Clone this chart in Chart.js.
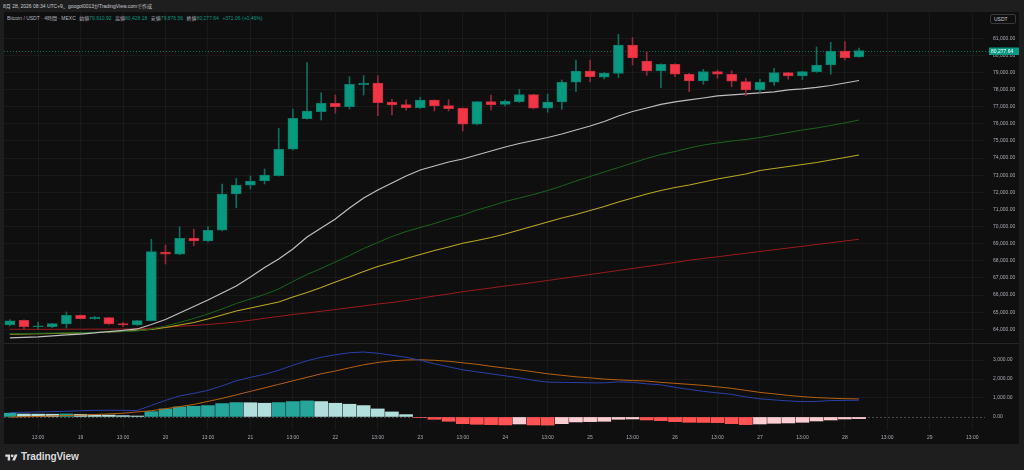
<!DOCTYPE html>
<html><head><meta charset="utf-8">
<script src="https://cdn.jsdelivr.net/npm/chart.js@4.4.0/dist/chart.umd.min.js"></script>
<style>
html,body{margin:0;padding:0;width:1024px;height:470px;overflow:hidden;background:#1e1e1e;font-family:"Liberation Sans",Arial,"Noto Sans CJK JP",sans-serif;}
#panel{position:absolute;left:4px;top:12px;width:1015px;height:432px;background:#0f0f0f;}
#hdr{position:absolute;left:3px;top:3px;font-size:5px;line-height:6px;color:#c9cbd1;white-space:nowrap;}
#legend{position:absolute;left:7px;top:14.5px;font-size:5px;line-height:6px;color:#b2b5be;white-space:nowrap;}
#legend .l{margin-left:3.5px}
#legend .v{color:#089981}
canvas{position:absolute;}
#cA{left:4px;top:12px;}
#cB{left:4px;top:344px;}
#sep{position:absolute;left:4px;top:343px;width:1015px;height:1px;background:#262626;}
#usdt{position:absolute;left:990px;top:13.5px;width:26px;height:10px;border:1px solid #3a3a3a;border-radius:2px;box-sizing:border-box;font-size:5px;line-height:8px;color:#c9cbd1;text-indent:3px;background:#0f0f0f;}
#logo{position:absolute;left:5px;top:453px;}
#tv{position:absolute;left:21px;top:450px;font-size:10px;line-height:13px;font-weight:600;color:#d8dadf;letter-spacing:-0.1px;}
</style></head>
<body>
<div id="panel"></div>
<div id="hdr">8月 28, 2026 08:34 UTC+9、googol0013がTradingView.comで作成</div>
<div id="legend">Bitcoin / USDT · 4時間 · MEXC<span class="l">始値</span><span class="v">79,910.92</span><span class="l">高値</span><span class="v">80,428.18</span><span class="l">安値</span><span class="v">79,876.56</span><span class="l">終値</span><span class="v">80,277.64</span><span class="v l">+371.06 (+0.46%)</span></div>
<div id="usdt">USDT</div>
<canvas id="cA" width="1015" height="332"></canvas>
<div id="sep"></div>
<canvas id="cB" width="1015" height="100"></canvas>
<svg id="logo" width="13" height="9" viewBox="0 0 36 26"><path d="M14 22H7V11H0V4h14v18z" fill="#d8dadf"/><circle cx="20" cy="8" r="4" fill="#d8dadf"/><path d="M28 22h-8l7.5-18h8L28 22z" fill="#d8dadf"/></svg>
<div id="tv">TradingView</div>
<script>
// ---- data (4h candles, 18日 05:00 → 28日 05:00, UTC+9) ----
const opens=[64250,64526,64150,64152,64310,64818,64620,64678,64327,64250,64502,68515,68381,69316,69159,69783,71904,72411,72662,72972,74514,76300,76710,77200,77002,78290,78387,77277,77120,76944,77393,77060,76910,75974,77294,77140,77294,77703,76909,77277,78428,79087,78720,78950,80607,79671,79087,79479,78895,78504,79048,78895,78462,77978,78428,78988,78795,79048,79438,80256,79910.92];
const highs=[64560,64560,64426,64350,65010,64850,64750,64700,64409,64520,69257,68924,69993,69858,69993,72487,72820,72954,73364,75740,76868,79573,77820,77686,78755,78813,78813,77435,77400,77550,77400,77410,76930,77300,77686,77400,78020,77720,77745,78562,79730,79730,79000,81231,81043,80215,79500,79500,78950,79185,79150,79100,78660,78600,79250,79000,79070,80490,80765,80800,80428.18];
const lows=[64200,64040,64018,64090,64076,64600,64580,64290,64152,64230,64480,67815,68350,68883,69100,69750,71103,72195,72487,72950,74480,76280,76225,76617,76868,77686,76477,76517,76800,76900,76750,76750,75583,75950,76810,77050,77250,76880,76675,76850,77880,78460,78620,78700,79438,78832,78110,78755,77880,78310,78650,78170,77640,77840,78250,78600,78580,79000,78895,79730,79876.56];
const closes=[64500,64152,64180,64327,64818,64619,64700,64310,64250,64502,68533,68381,69316,69159,69783,71904,72429,72662,73013,74514,76325,76750,77200,77002,78311,78387,77236,77100,76944,77393,77043,76885,75974,77294,77120,77318,77703,76909,77277,78428,79087,78755,78970,80607,79847,79087,79479,78895,78504,79048,78895,78486,77978,78428,78988,78795,79048,79438,80256,79866,80277.64];
const maWhite=[63492,63521,63550,63609,63667,63725,63784,63871,63930,64018,64280,64572,64952,65332,65711,66120,66529,67055,67610,68106,68690,69391,69917,70443,71085,71669,72137,72545,72954,73305,73538,73772,73947,74181,74415,74648,74853,75028,75203,75408,75641,75875,76138,76459,76722,76926,77131,77277,77394,77510,77627,77686,77744,77802,77861,77978,78036,78124,78240,78386,78532];
const maGreen=[63743,63755,63766,63778,63790,63807,63825,63842,63866,63901,64018,64193,64397,64631,64894,65186,65507,65770,66033,66354,66792,67201,67551,67931,68311,68720,69070,69420,69712,69946,70180,70443,70676,70968,71202,71465,71669,71874,72107,72370,72662,72925,73188,73451,73714,73976,74210,74385,74590,74765,74882,74999,75086,75203,75349,75495,75641,75758,75904,76050,76225];
const maYellow=[63714,63725,63737,63755,63772,63790,63813,63842,63871,63942,63988,64105,64251,64397,64602,64835,65069,65244,65419,65595,65887,66149,66442,66763,67055,67376,67668,67902,68135,68369,68603,68807,69023,69187,69362,69567,69800,70034,70267,70501,70705,70939,71173,71436,71669,71903,72107,72283,72429,72604,72779,72925,73071,73276,73392,73509,73626,73743,73889,74035,74181];
const maRed=[64000,64000,64000,64000,64006,64006,64012,64012,64018,64018,64064,64117,64175,64222,64280,64350,64426,64526,64643,64748,64864,64952,65051,65157,65262,65361,65478,65565,65682,65811,65945,66062,66196,66307,66412,66529,66628,66734,66850,66967,67084,67201,67318,67435,67551,67668,67785,67902,68036,68135,68235,68340,68439,68544,68644,68749,68848,68953,69053,69158,69257];
const macdLine=[233,249,265,280,302,328,349,354,349,339,608,873,1111,1243,1402,1640,1904,2090,2248,2460,2724,2962,3148,3280,3386,3423,3359,3253,3148,2989,2804,2645,2486,2381,2275,2169,2063,1931,1836,1825,1814,1799,1799,1852,1825,1746,1693,1561,1455,1349,1270,1190,1058,952,899,846,809,820,862,873,883];
const signalLine=[-11,11,26,53,74,95,127,159,196,265,328,434,545,661,820,979,1164,1349,1534,1719,1904,2090,2275,2423,2592,2751,2872,2962,3005,3015,2989,2936,2857,2777,2671,2576,2486,2381,2275,2195,2116,2063,1994,1957,1920,1894,1825,1772,1719,1666,1587,1508,1402,1296,1217,1137,1069,1021,989,963,952];
const histVals=[200,155,150,145,160,140,115,100,70,50,280,423,529,564,600,705,758,750,723,758,811,846,811,723,670,600,423,264,123,-20,-123,-229,-353,-388,-405,-420,-370,-423,-430,-353,-264,-247,-229,-123,-106,-159,-194,-247,-282,-290,-300,-353,-405,-370,-335,-317,-282,-212,-159,-106,-88];
const priceTicks=[64000,65000,66000,67000,68000,69000,70000,71000,72000,73000,74000,75000,76000,77000,78000,79000,80000,81000];
const macdTicks=[0,1000,2000,3000];
const timeTickIdx=[2,5,8,11,14,17,20,23,26,29,32,35,38,41,44,47,50,53,56,59,62,65,68];
const timeTickLabels=['13:00','19','13:00','20','13:00','21','13:00','22','13:00','23','13:00','24','13:00','25','13:00','26','13:00','27','13:00','28','13:00','29','13:00'];

// ---- view ranges ----
const X_MIN=-0.41, X_MAX=68.9;
const P_MIN=63141, P_MAX=82533;
const M_MIN=-688, M_MAX=3847;

Chart.defaults.font.family='"Liberation Sans", Arial, sans-serif';
const gridC='rgba(255,255,255,0.045)';
const labelC='#a9acb4';
const fmt=v=>Number(v).toLocaleString('en-US',{minimumFractionDigits:2,maximumFractionDigits:2});
const fix=(w,h)=>s=>{ if(w!==undefined) s.width=w; if(h!==undefined) s.height=h; s.paddingTop=0;s.paddingBottom=0;s.paddingLeft=0;s.paddingRight=0; };
const idx=closes.map((_,i)=>i);
const up=idx.map(i=>closes[i]>=opens[i]);
const pts=arr=>arr.map((v,i)=>({x:i,y:v}));

const priceLine={id:'priceLine',
  beforeDatasetsDraw(c){const {ctx,chartArea:a,scales:{y}}=c;const py=Math.round(y.getPixelForValue(closes[closes.length-1]))+0.5;
    ctx.save();ctx.strokeStyle='#07705f';ctx.lineWidth=1;ctx.setLineDash([1,2]);ctx.beginPath();ctx.moveTo(a.left,py);ctx.lineTo(a.right+4,py);ctx.stroke();ctx.restore();},
  afterDraw(c){const {ctx,chartArea:a,scales:{y}}=c;const last=closes[closes.length-1];const py=Math.round(y.getPixelForValue(last));
    ctx.save();ctx.fillStyle='#089981';ctx.fillRect(a.right+4,py-3.5,30,7.5);ctx.fillStyle='#ffffff';ctx.font='5px "Liberation Sans", Arial';ctx.textBaseline='middle';ctx.fillText(fmt(last),a.right+6,py+0.3);ctx.restore();}
};
const zeroLine={id:'zeroLine',
  beforeDatasetsDraw(c){const {ctx,chartArea:a,scales:{y}}=c;const py=Math.round(y.getPixelForValue(0))+0.5;
    ctx.save();ctx.strokeStyle='#4a4a4a';ctx.lineWidth=1;ctx.setLineDash([2,2]);ctx.beginPath();ctx.moveTo(a.left,py);ctx.lineTo(a.right,py);ctx.stroke();ctx.restore();}
};

const xBase={type:'linear',min:X_MIN,max:X_MAX,offset:false,
  afterBuildTicks:s=>{s.ticks=timeTickIdx.map(v=>({value:v}));},
  grid:{color:gridC,drawTicks:false,offset:false},border:{display:false}};

new Chart(document.getElementById('cA'),{
  type:'bar',
  data:{datasets:[
    {type:'line',data:pts(maRed),borderColor:'#9a1a1d',borderWidth:1,pointRadius:0,order:6},
    {type:'line',data:pts(maYellow),borderColor:'#b8a721',borderWidth:1.1,pointRadius:0,order:5},
    {type:'line',data:pts(maGreen),borderColor:'#1c641f',borderWidth:1,pointRadius:0,order:4},
    {type:'line',data:pts(maWhite),borderColor:'#bdbdbd',borderWidth:1.25,pointRadius:0,order:3},
    {type:'bar',data:idx.map(i=>({x:i,y:[lows[i],highs[i]]})),backgroundColor:idx.map(i=>up[i]?'#0e6e5e':'#93283a'),barThickness:1,grouped:false,order:2},
    {type:'bar',data:idx.map(i=>({x:i,y:[opens[i],closes[i]]})),backgroundColor:idx.map(i=>up[i]?'#089981':'#f23645'),borderColor:idx.map(i=>up[i]?'#0b7f6c':'#c92e3d'),borderWidth:1,borderSkipped:false,barThickness:10,minBarLength:1,grouped:false,order:1}
  ]},
  options:{responsive:false,animation:false,events:[],layout:{padding:0},
    plugins:{legend:{display:false},tooltip:{enabled:false}},
    scales:{
      x:Object.assign({},xBase,{ticks:{display:false},afterFit:fix(undefined,0)}),
      y:{position:'right',min:P_MIN,max:P_MAX,
        afterBuildTicks:s=>{s.ticks=priceTicks.map(v=>({value:v}));},
        ticks:{color:labelC,font:{size:5},padding:8,callback:v=>fmt(v)},
        grid:{color:gridC,drawTicks:false},border:{display:false},afterFit:fix(34)}
    }},
  plugins:[priceLine]
});

const histColors=histVals.map((h,i)=>{const p=i>0?histVals[i-1]:h-1;return h>=0?(h>=p?'#26a69a':'#b2dfdb'):(h<p?'#ff5252':'#ffcdd2');});
new Chart(document.getElementById('cB'),{
  type:'bar',
  data:{datasets:[
    {type:'line',data:pts(signalLine),borderColor:'#b8610f',borderWidth:1,pointRadius:0,order:2},
    {type:'line',data:pts(macdLine),borderColor:'#2a40a8',borderWidth:1,pointRadius:0,order:1},
    {type:'bar',data:pts(histVals),backgroundColor:histColors,barThickness:13,grouped:false,order:3}
  ]},
  options:{responsive:false,animation:false,events:[],layout:{padding:0},
    plugins:{legend:{display:false},tooltip:{enabled:false}},
    scales:{
      x:Object.assign({},xBase,{ticks:{display:true,color:labelC,font:{size:5},padding:5,maxRotation:0,autoSkip:false,callback:(v,i)=>timeTickLabels[i]},afterFit:fix(undefined,14)}),
      y:{position:'right',min:M_MIN,max:M_MAX,
        afterBuildTicks:s=>{s.ticks=macdTicks.map(v=>({value:v}));},
        ticks:{color:labelC,font:{size:5},padding:8,callback:v=>fmt(v)},
        grid:{color:c=>c.tick&&c.tick.value===0?'rgba(0,0,0,0)':gridC,drawTicks:false},border:{display:false},afterFit:fix(34)}
    }},
  plugins:[zeroLine]
});
</script>
</body></html>
